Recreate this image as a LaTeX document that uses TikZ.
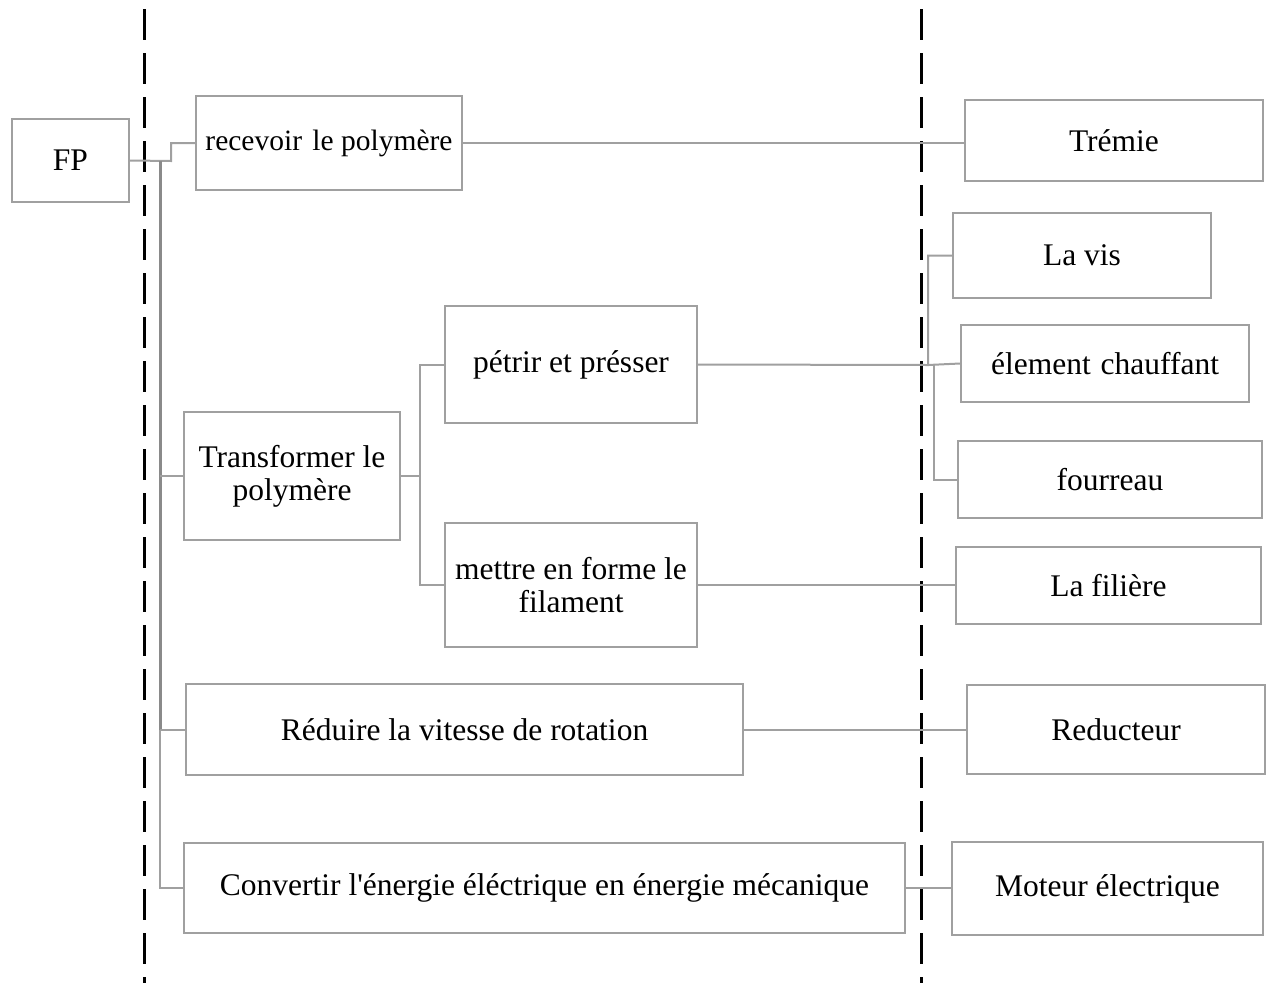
\documentclass[tikz,border=0pt]{standalone}
\usepackage{fontspec}
\setmainfont{Liberation Serif}[Ligatures=TeXOff]
\begin{document}
\begin{tikzpicture}[x=1pt,y=-1pt,
  box/.style={draw=boxgray, line width=2pt, inner sep=0pt, align=center,
              font=\fontsize{31.5}{33}\selectfont},
  conn/.style={draw=boxgray, line width=2pt},
  trunk/.style={draw=trunkgray, line width=3pt},
  sep/.style={draw=black, line width=3pt, dash pattern=on 31pt off 13pt}]
\definecolor{boxgray}{HTML}{A0A0A0}
\definecolor{trunkgray}{HTML}{8A8A8A}
\useasboundingbox (0,0) rectangle (1267,983);

% separators
\draw[sep] (144,9) -- (144,983);
\draw[sep] (921,9) -- (921,983);

% function side
\node[box, minimum width=117, minimum height=83] (fp) at (70.5,160.5) {FP};
\node[box, minimum width=266, minimum height=94, font=\fontsize{29.5}{33}\selectfont] (rec) at (329,143) {recevoir\hspace{3pt} le polymère};
\node[box, minimum width=216, minimum height=128] (trans) at (292,476) {Transformer le\\polymère};
\node[box, minimum width=252, minimum height=117] (pet) at (571,364.5) {pétrir et présser};
\node[box, minimum width=252, minimum height=124] (met) at (571,585) {mettre en forme le\\filament};
\node[box, minimum width=557, minimum height=91] (red) at (464.5,729.5) {Réduire la vitesse de rotation};
\node[box, minimum width=721, minimum height=90] (conv) at (544.5,888) {Convertir l'énergie éléctrique en énergie mécanique};

% solution side
\node[box, minimum width=298, minimum height=81] (tre) at (1114,140.5) {Trémie};
\node[box, minimum width=258, minimum height=85] (vis) at (1082,255.5) {La vis};
\node[box, minimum width=288, minimum height=77] (chauf) at (1105,363.5) {élement\hspace{2pt} chauffant};
\node[box, minimum width=304, minimum height=77] (four) at (1110,479.5) {fourreau};
\node[box, minimum width=305, minimum height=77] (fil) at (1108.5,585.5) {La filière};
\node[box, minimum width=298, minimum height=89] (rdt) at (1116,729.5) {Reducteur};
\node[box, minimum width=311, minimum height=93] (mot) at (1107.5,888.5) {Moteur électrique};

% junction points
\coordinate (t0) at (160,161);
\coordinate (t1) at (160,730);
\coordinate (k1) at (171,161);
\coordinate (j1) at (420,476);
\coordinate (j2) at (928,365);
\coordinate (j3) at (934,365);

% main trunk from FP
\draw[conn] (fp.east) -- (k1) |- (rec.west);
\draw[trunk] (t0) -- (t1);
\draw[conn] (t1) |- (conv.west);
\draw[conn] (trans.west) -- (trans.west -| t0);
\draw[conn] (red.west) -- (red.west -| t0);

% transformation branch
\draw[conn] (trans.east) -- (j1);
\draw[conn] (j1) |- (pet.west);
\draw[conn] (j1) |- (met.west);

% links to solutions
\draw[conn] (rec.east) -- (rec.east -| tre.west);
\draw[conn] (pet.east) -- (j2) |- (vis.west);
\draw[conn] (j2) -- (chauf.west);
\draw[conn] (j3) |- (four.west);
\draw[conn] (met.east) -- (met.east -| fil.west);
\draw[conn] (red.east) -- (red.east -| rdt.west);
\draw[conn] (conv.east) -- (conv.east -| mot.west);
\end{tikzpicture}
\end{document}
